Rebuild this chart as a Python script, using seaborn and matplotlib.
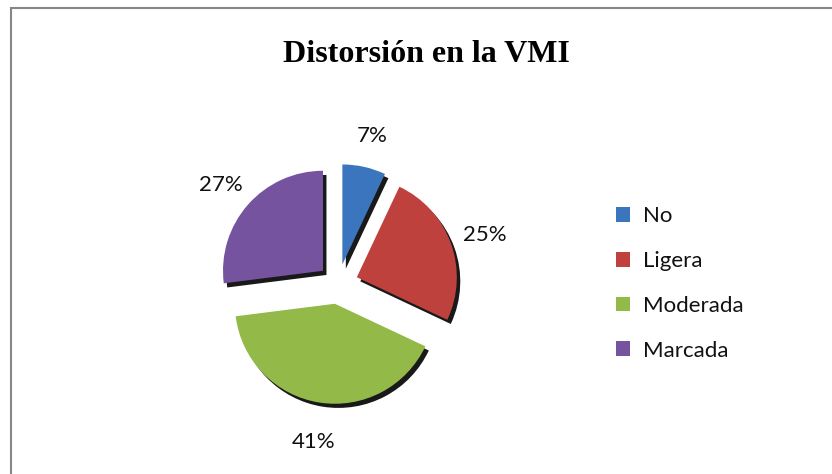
import matplotlib.pyplot as plt
import seaborn as sns
from matplotlib.patches import Rectangle, Shadow

# data
categories = ['No', 'Ligera', 'Moderada', 'Marcada']
values = [7, 25, 41, 27]
colors = ['#3a75bd', '#be413e', '#93b949', '#75539e']

sns.set_theme(style='white')
plt.rcParams['font.family'] = ['Lato', 'DejaVu Sans']
plt.rcParams['text.color'] = 'black'

fig = plt.figure(figsize=(8.32, 4.74), dpi=100)

# chart area border (right and bottom edges fall outside the image)
fig.patches.append(Rectangle((11 / 832, -0.1), 1.0, 1.1 - 8 / 474,
                             transform=fig.transFigure, fill=False,
                             edgecolor='#868686', linewidth=1.5))

ax = fig.add_axes([208 / 832, (474 - 414) / 474, 260 / 832, 260 / 474])
wedges, texts = ax.pie(values, colors=colors, startangle=90, counterclock=False,
                       explode=[0.2] * 4, shadow={'ox': 0.025, 'oy': -0.03, 'shade': 1.0},
                       labels=[f'{v}%' for v in values], labeldistance=1.36,
                       textprops={'fontsize': 16, 'color': '#111111'},
                       wedgeprops={'linewidth': 0})
for p in ax.patches:
    if isinstance(p, Shadow):
        p.set_alpha(0.9)
for t in texts:
    t.set_horizontalalignment('center')
    t.set_verticalalignment('center')
    # 3D tilt in the original pushes labels slightly down
    x, y = t.get_position()
    t.set_position((x, y - 0.04))
ax.set_xlim(-1.3, 1.3)
ax.set_ylim(-1.3, 1.3)
ax.set_aspect('equal')
ax.axis('off')

fig.text(426 / 832, 1 - 55 / 474, 'Distorsión en la VMI', ha='center', va='center',
         fontsize=23, fontweight='bold', color='black',
         family=['Liberation Serif', 'DejaVu Serif'])

leg = fig.legend(wedges, categories, loc='upper left',
                 bbox_to_anchor=(596 / 832, 1 - 186 / 474), frameon=False,
                 fontsize=16, labelspacing=1.12, handlelength=0.65, handleheight=0.65,
                 handletextpad=0.55)
for t in leg.get_texts():
    t.set_color('#111111')

plt.savefig('out.png', dpi=100)
